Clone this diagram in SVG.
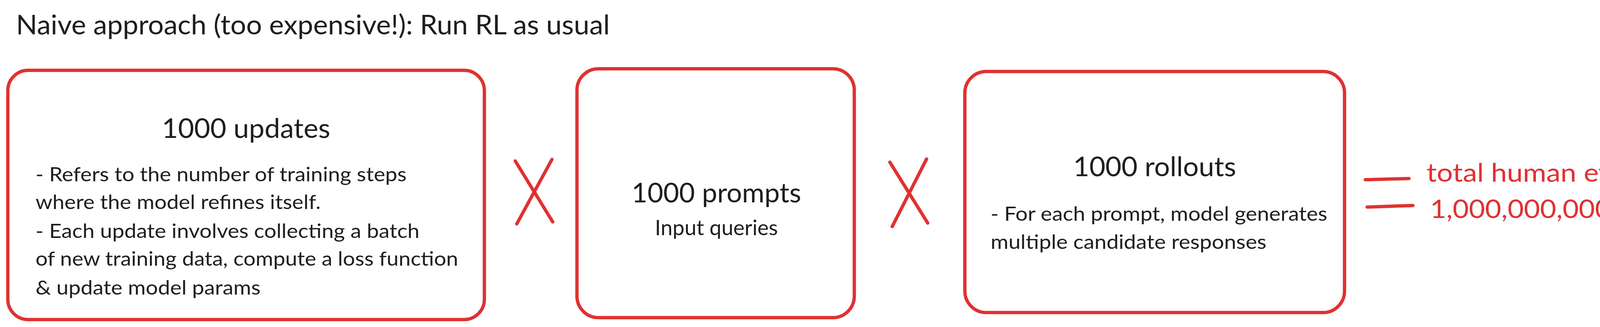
<svg xmlns="http://www.w3.org/2000/svg" width="4800" height="837" viewBox="0 0 4800 837">
<defs>
<style>
.bg{fill:#ffffff}
.box{fill:#ffffff;stroke:#e03131;stroke-width:8.5;stroke-linejoin:round}
.mark{fill:none;stroke:#e03131;stroke-width:8.5;stroke-linecap:round}
.eq{fill:none;stroke:#e03131;stroke-width:8.5;stroke-linecap:round}
.t{font-family:Lato,"Open Sans","Noto Sans",sans-serif;fill:#1e1e1e}
.h{font-size:70px}
.b{font-size:50px}
.s{font-size:54px}
.r{font-family:Lato,"Open Sans","Noto Sans",sans-serif;fill:#e03131;font-size:65px}
.mid{text-anchor:middle}
</style>
</defs>
<rect class="bg" x="0" y="0" width="4800" height="837"/>
<g id="title">
<text class="t h" x="41" y="88" textLength="1520" lengthAdjust="spacingAndGlyphs">Naive approach (too expensive!): Run RL as usual</text>
</g>
<g id="node-updates">
<rect class="box" x="20" y="180" width="1220" height="638" rx="52" ry="52"/>
<text class="t h mid" x="630" y="353" textLength="431" lengthAdjust="spacingAndGlyphs">1000 updates</text>
<text class="t b" x="91" y="464" textLength="950" lengthAdjust="spacingAndGlyphs">- Refers to the number of training steps</text>
<text class="t b" x="91" y="535" textLength="730" lengthAdjust="spacingAndGlyphs">where the model refines itself.</text>
<text class="t b" x="91" y="609" textLength="983" lengthAdjust="spacingAndGlyphs">- Each update involves collecting a batch</text>
<text class="t b" x="91" y="680" textLength="1082" lengthAdjust="spacingAndGlyphs">of new training data, compute a loss function</text>
<text class="t b" x="91" y="754" textLength="576" lengthAdjust="spacingAndGlyphs">&amp; update model params</text>
</g>
<g id="op-times-1">
<path class="mark" d="M1319 412 L1415 568"/>
<path class="mark" d="M1413 408 L1323 573"/>
</g>
<g id="node-prompts">
<rect class="box" x="1477" y="176" width="710" height="637" rx="55" ry="55"/>
<text class="t h mid" x="1834" y="518" textLength="434" lengthAdjust="spacingAndGlyphs">1000 prompts</text>
<text class="t s mid" x="1834" y="602" textLength="315" lengthAdjust="spacingAndGlyphs">Input queries</text>
</g>
<g id="op-times-2">
<path class="mark" d="M2278 415 L2375 571"/>
<path class="mark" d="M2372 407 L2284 580"/>
</g>
<g id="node-rollouts">
<rect class="box" x="2470" y="183" width="972" height="617" rx="55" ry="55"/>
<text class="t h mid" x="2956" y="451" textLength="417" lengthAdjust="spacingAndGlyphs">1000 rollouts</text>
<text class="t b" x="2536" y="565" textLength="862" lengthAdjust="spacingAndGlyphs">- For each prompt, model generates</text>
<text class="t b" x="2536" y="637" textLength="706" lengthAdjust="spacingAndGlyphs">multiple candidate responses</text>
</g>
<g id="op-equals">
<path class="eq" d="M3495 460 L3607 457"/>
<path class="eq" d="M3500 530 L3617 526"/>
</g>
<g id="result">
<text class="r" x="3652" y="465" textLength="976" lengthAdjust="spacingAndGlyphs">total human eval needed (cost)</text>
<text class="r" x="3661" y="558" textLength="1111" lengthAdjust="spacingAndGlyphs">1,000,000,000 scores from humans</text>
</g>
</svg>
